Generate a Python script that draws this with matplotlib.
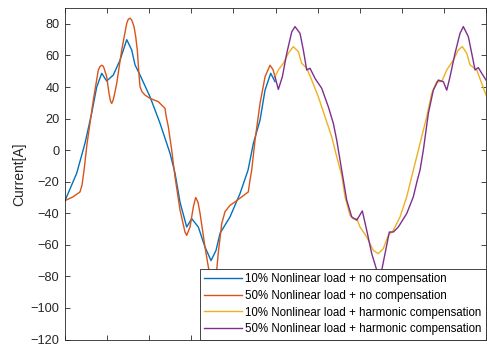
import matplotlib
matplotlib.use("Agg")
import matplotlib.pyplot as plt

plt.rcParams['font.family'] = ['Liberation Sans', 'DejaVu Sans']

# time in ms (x axis has ticks but no labels)
t_blue = [0.00, 2.78, 4.75, 6.34, 7.53, 8.72, 9.90, 11.47, 13.06, 14.66, 15.84, 16.63, 17.81,
          20.19, 22.57, 24.94, 26.13, 27.32, 28.90, 30.09, 31.66, 33.25, 34.68, 35.87, 36.82,
          39.19, 41.57, 43.47, 44.73, 46.32, 47.51, 48.86, 49.88]
i_blue = [-32, -14.6, 4.4, 23.5, 40, 48.7, 43.8, 47.6, 57, 70, 63.5, 54, 47.6,
          33.8, 17, -2, -14.6, -33, -48.7, -43.4, -48.7, -61.4, -70, -63.5, -52.7,
          -42.3, -27.5, -12.7, 4.2, 19, 38, 48.7, 43.4]

t_red = [0.00, 1.90, 3.56, 4.04, 4.51, 5.23, 6.72, 7.91, 8.31, 8.72, 9.03, 9.26, 9.90, 10.45,
         10.81, 11.09, 11.40, 11.64, 12.28, 13.47, 14.66, 15.04, 15.44, 15.84, 16.39, 16.79,
         17.17, 17.51, 17.81, 18.29, 19.00, 20.19, 22.16, 23.75, 23.99, 24.54,
         25.34, 26.13, 27.32, 28.50, 28.90, 29.69, 30.48, 31.04, 31.59, 32.07, 33.25, 34.04,
         34.68, 35.39, 36.03, 36.41, 37.22, 38.00, 39.19, 40.38, 41.97, 43.53, 43.94, 44.34,
         45.13, 46.32, 47.51, 48.69, 49.41, 49.88]
i_red = [-32, -29.6, -26.5, -22, -13, 4, 31.7, 50.8, 53, 53.8, 53.3, 52, 46.5, 36,
         31, 29.6, 31.5, 34, 42.3, 63.5, 80.4, 83, 83.6, 82.5, 78.3, 72,
         63.5, 50, 40.2, 37, 34.9, 32.8, 30.7, 26.5, 22, 14.8,
         0, -17, -38, -51.9, -54, -48.7, -36, -30, -33, -40, -61.4, -74,
         -82, -84, -76, -65, -46.6, -39, -35, -32.8, -29.6, -26.5, -19, -12.7,
         6.3, 29.6, 46.5, 53.8, 51, 46.5]

t_yel = [49.88, 50.67, 51.85, 53.04, 54.23, 55.42, 56.22, 57.41, 58.60, 60.17, 61.76, 63.35,
         64.54, 65.72, 66.51, 67.70, 68.41, 69.29, 70.07, 71.66, 73.22, 74.41, 75.60, 76.79,
         77.98, 79.57, 81.16, 82.73, 84.32, 85.91, 87.10, 88.29, 89.48, 90.67, 92.23, 93.42,
         94.37, 95.42, 96.20, 97.79, 100.0]
i_yel = [46.5, 50.8, 55, 61.4, 65.6, 62.4, 55, 51.9, 44.4, 33.8, 21.1, 8.4,
         -4.2, -15.9, -29.6, -41.3, -43.5, -43.4, -48.7, -55, -63.5, -65.6, -62.4, -54,
         -50.8, -42.3, -29.6, -12.7, 4.2, 21.1, 36, 43.4, 43.4, 50.8, 57, 63.5,
         65.6, 61.4, 54, 50.8, 35]

t_pur = [49.88, 50.67, 51.62, 52.67, 53.86, 54.63, 55.82, 56.60, 57.41, 58.19, 59.38, 60.97,
         62.54, 63.73, 64.54, 65.72, 66.91, 68.10, 69.29, 70.62, 71.66, 72.85, 74.04, 74.58,
         75.23, 76.01, 77.03, 77.98, 79.17, 81.16, 82.73, 83.68, 84.32, 85.11, 86.30, 87.48,
         88.67, 89.86, 90.67, 91.45, 92.64, 93.82, 94.61, 95.80, 96.60, 97.39, 98.17, 98.98, 100.0]
i_pur = [46.5, 38.5, 46.5, 61.4, 75, 78.3, 74, 63.5, 50.8, 51.9, 45.5, 39.2,
         27.5, 17, 6.3, -12.7, -31.7, -42.3, -44.4, -38.5, -50.8, -65.6, -76, -78.5,
         -76, -65.6, -51.9, -51.9, -48.7, -40.2, -29.6, -19, -12.7, 0, 23.3, 38,
         44.4, 43.4, 38, 46.5, 61.4, 74, 78.3, 71.9, 61.4, 50.8, 52.3, 48.7, 44.4]

labels = ['10% Nonlinear load + no compensation',
          '50% Nonlinear load + no compensation',
          '10% Nonlinear load + harmonic compensation',
          '50% Nonlinear load + harmonic compensation']
colors = ['#0072BD', '#D95319', '#EDB120', '#7E2F8E']

yticks = list(range(-120, 81, 20))
xticks = list(range(0, 101, 10))

fig = plt.figure(figsize=(4.87, 3.47), dpi=100)
ax = fig.add_axes([0.1335, 0.0216, 0.8645, 0.955])

for t, i, c, l in zip([t_blue, t_red, t_yel, t_pur], [i_blue, i_red, i_yel, i_pur], colors, labels):
    ax.plot(t, i, color=c, lw=1.0, label=l)

ax.set_xlim(0, 100)
ax.set_ylim(-120, 90)
ax.set_yticks(yticks)
ax.set_xticks(xticks)
ax.set_xticklabels([])
ax.tick_params(direction='in', length=3.5, width=0.6, colors='#262626',
               top=True, right=True, labelsize=9.2, pad=4)
for s in ax.spines.values():
    s.set_color('#262626')
    s.set_linewidth(0.6)
ax.set_ylabel('Current[A]', fontsize=10, color='#262626', labelpad=3)

leg = ax.legend(loc='lower right', fontsize=8.3, frameon=True, fancybox=False,
                borderaxespad=0.0, handlelength=3.3, handletextpad=0.28,
                labelspacing=0.4, borderpad=0.38)
leg.get_frame().set_edgecolor('#262626')
leg.get_frame().set_linewidth(0.6)
leg.get_frame().set_alpha(1)

fig.savefig('out.png', dpi=100)
